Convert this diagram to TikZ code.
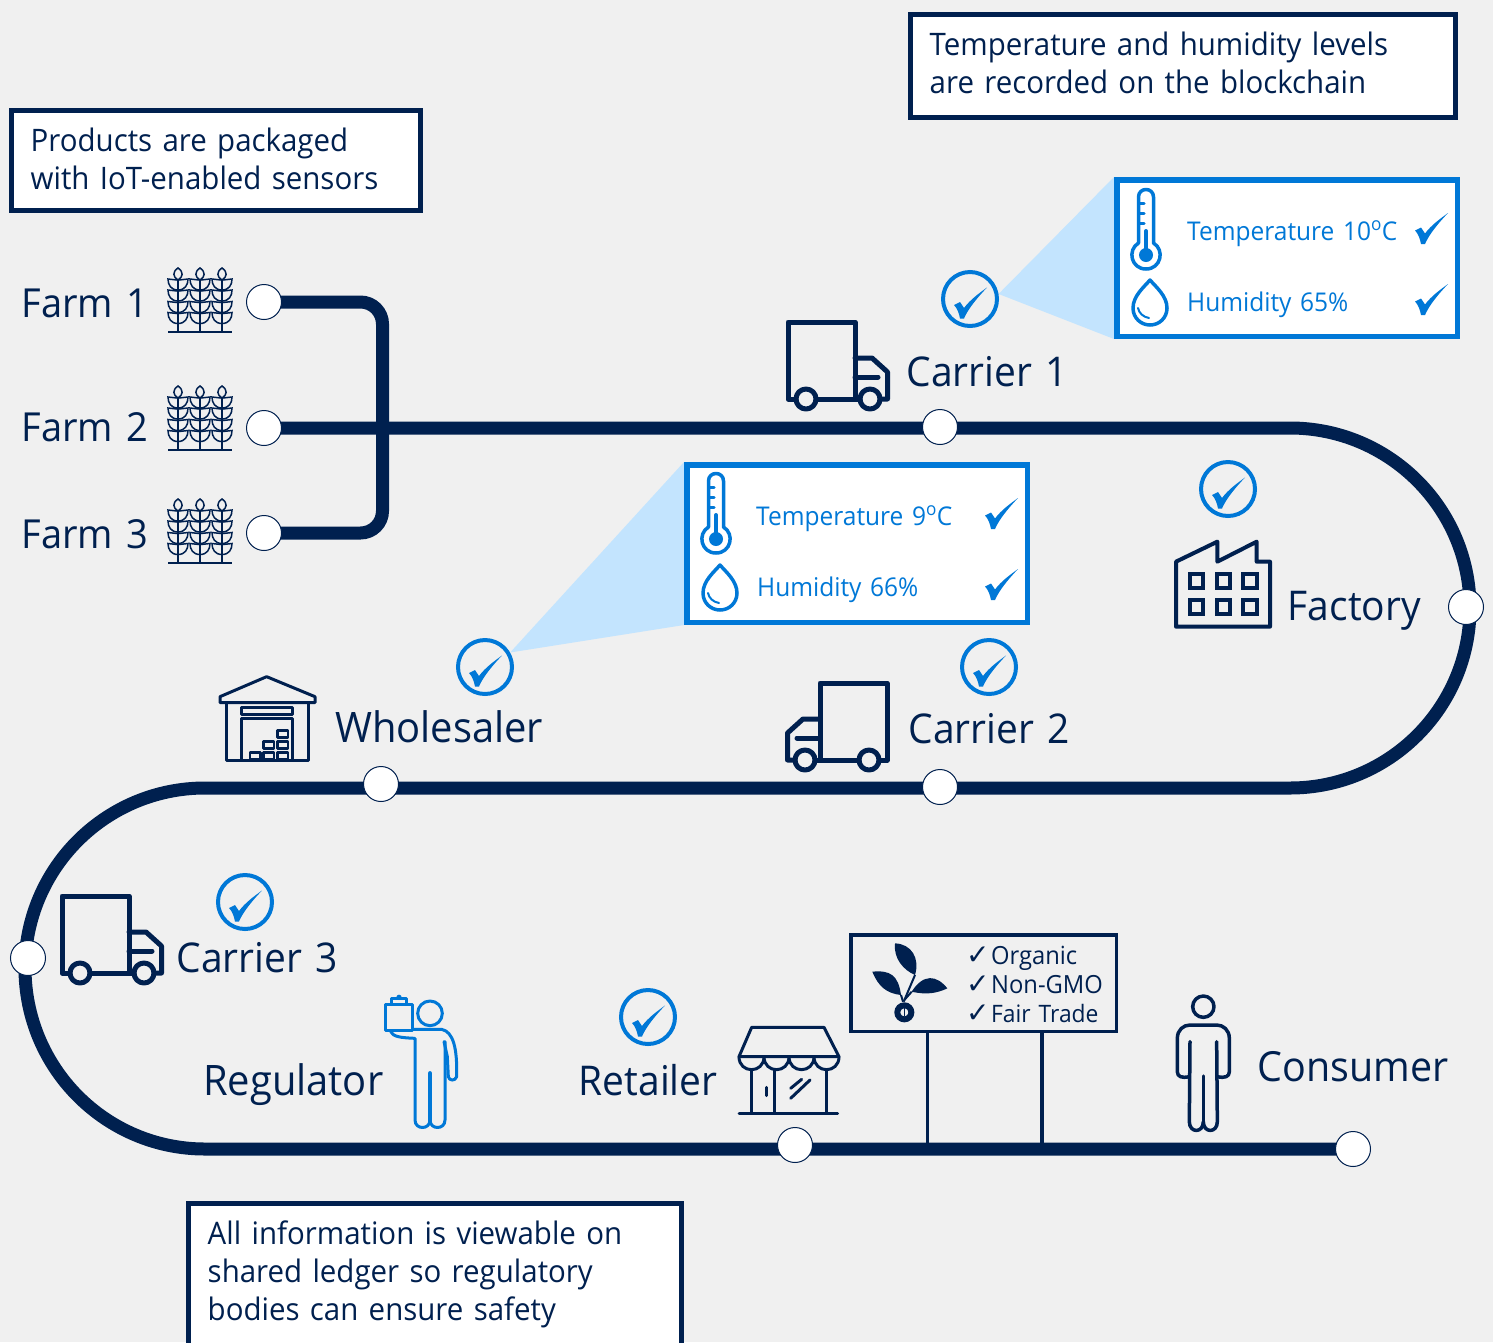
\documentclass[tikz,border=0pt]{standalone}
\usepackage{fontspec}
\setmainfont[FakeStretch=0.95,WordSpace=1.35]{Open Sans}
\newfontfamily\symfont{DejaVu Sans}
\definecolor{navy}{HTML}{00204F}
\definecolor{azure}{HTML}{0078D7}
\definecolor{pale}{HTML}{C3E4FE}
\definecolor{paper}{HTML}{F0F0F0}
\newcommand{\fs}[2]{\fontsize{#1pt}{#2pt}\selectfont}
\newcommand{\cm}{{\fontsize{28pt}{28pt}\symfont ✓}\hspace{1.5pt}}
\pgfdeclarelayer{under}
\pgfsetlayers{under,main}
\tikzset{
  x=1pt,y=-1pt,
  track/.style={draw=navy,line width=13pt},
  station/.style={circle,draw=navy,line width=1pt,fill=white,minimum size=35pt,inner sep=0pt},
  chk/.style={circle,draw=azure,line width=4pt,minimum size=54pt,inner sep=0pt},
  note/.style={draw=navy,line width=5pt,fill=white,anchor=north west,inner sep=0pt},
  notetext/.style={anchor=north west,inner sep=0pt,align=left,text=navy,font=\fs{31}{38}},
  callout/.style={draw=azure,line width=5.5pt,fill=white,anchor=north west,inner sep=0pt},
  calltext/.style={anchor=base west,inner sep=0pt,text=azure,font=\fs{25.8}{30}},
  lbl/.style={anchor=base west,inner sep=0pt,text=navy,font=\fs{41}{46}},
  icon/.style={draw=navy,line width=4pt,line join=round,line cap=round},
  bicon/.style={draw=azure,line width=3pt,line join=round,line cap=round},
  tickmark/.pic={\fill[azure] (-16,6) -- (-10,3) -- (-6,9) .. controls (0,1) and (8,-5) .. (17,-11.5) .. controls (7,-1) and (-2,10) .. (-6,19.5) -- (-10,19.5) .. controls (-11,14) and (-13,9) .. (-16,6) -- cycle;},
  truckicon/.pic={
    \draw[icon,line width=5pt] (8,77) -- (0,77) -- (0,0) -- (67,0) -- (67,77);
    \draw[icon,line width=5pt] (28,77) -- (72,77);
    \draw[icon,line width=5pt] (67,36) -- (84,36) -- (99.5,50) -- (99.5,77) -- (92,77);
    \draw[icon,line width=5pt] (67,55) -- (90,55);
    \draw[icon,line width=5pt] (18,77) circle[radius=10];
    \draw[icon,line width=5pt] (82,77) circle[radius=10];
  },
  wheaticon/.pic={
    \draw[draw=navy,line width=2pt] (-32,64) -- (32,64);
    \foreach \sx in {-22,0,22}{
      \draw[draw=navy,line width=1.8pt] (\sx,12) -- (\sx,64);
      \draw[draw=navy,line width=1.5pt] (\sx,0) .. controls (\sx+6,4) and (\sx+5,9) .. (\sx,12) .. controls (\sx-5,9) and (\sx-6,4) .. (\sx,0) -- cycle;
      \foreach \ly in {11,22,33.5,44.5}{
        \draw[draw=navy,line width=1.5pt] (\sx,\ly+11) .. controls (\sx+7,\ly+11) and (\sx+10,\ly+6) .. (\sx+10,\ly) -- (\sx+1,\ly+1);
        \draw[draw=navy,line width=1.5pt] (\sx,\ly+11) .. controls (\sx-7,\ly+11) and (\sx-10,\ly+6) .. (\sx-10,\ly) -- (\sx-1,\ly+1);
      }
    }
  },
  thermo/.pic={
    \draw[bicon,line width=3.5pt] (-7.5,-12) -- (-7.5,-58) .. controls (-7.5,-68) and (7.5,-68) .. (7.5,-58) -- (7.5,-12) .. controls (19,-5) and (15,14) .. (0,14) .. controls (-15,14) and (-19,-5) .. (-7.5,-12) -- cycle;
    \fill[azure] (0,0) circle[radius=7];
    \draw[bicon,line width=4pt] (0,-24) -- (0,0);
    \foreach \ty in {-52,-42,-32} \draw[bicon] (-7,\ty) -- (-2,\ty);
  },
  dropicon/.pic={
    \draw[bicon,line width=3.5pt] (0,0) .. controls (6,7) and (17,16) .. (17,28) .. controls (17,38) and (9,45) .. (0,45) .. controls (-9,45) and (-17,38) .. (-17,28) .. controls (-17,16) and (-6,7) .. (0,0) -- cycle;
    \draw[bicon,line width=2pt] (-12,28) .. controls (-11,33) and (-7,37) .. (-1,38);
  }
}
\begin{document}
\begin{tikzpicture}
\useasboundingbox (0,0) rectangle (1493,1342);
\clip (0,0) rectangle (1493,1342);
\begin{pgfonlayer}{under}
\fill[paper] (0,0) rectangle (1493,1342);
\end{pgfonlayer}

% stations
\node[station] (f1) at (264,302) {};
\node[station] (f2) at (264,428) {};
\node[station] (f3) at (264,533) {};
\node[station] (c1) at (940,427) {};
\node[station] (fa) at (1466,607) {};
\node[station] (c2) at (940,787) {};
\node[station] (wh) at (381,784) {};
\node[station] (c3) at (28,958) {};
\node[station] (re) at (795,1145) {};
\node[station] (en) at (1353,1149) {};
\coordinate (brk) at (382.5,418);
\coordinate (a1) at (1290,428);
\coordinate (a2) at (1290,788);
\coordinate (b1) at (205,788);
\coordinate (b2) at (205,1149);

% check marks
\node[chk] (k1) at (970,299) {};
\node[chk] (k2) at (1228,489) {};
\node[chk] (k3) at (989,667) {};
\node[chk] (k4) at (485,667) {};
\node[chk] (k5) at (245,902) {};
\node[chk] (k6) at (648,1017) {};
\foreach \k in {k1,k2,k3,k4,k5,k6} \pic at (\k.center) {tickmark};

% call-out panels
\node[callout,minimum width=340.5pt,minimum height=156.5pt] (p1) at (1114,177) {};
\node[callout,minimum width=340.5pt,minimum height=157.5pt] (p2) at (684,462) {};

\begin{pgfonlayer}{under}
\draw[track,rounded corners=22pt] (f1.center) -| (brk) |- (f3.center);
\draw[track] (f2.center) -- (a1) .. controls (1389.4,428) and (1470,508.6) .. (1470,608) .. controls (1470,707.4) and (1389.4,788) .. (a2) -- (b1) .. controls (105.6,788) and (25,868.6) .. (25,968) .. controls (25,1068) and (105.6,1149) .. (b2) -- (en.center);
\fill[pale] (k1.10) -- (p1.north west) -- (p1.south west) -- cycle;
\fill[pale] (k4.30) -- (p2.north west) -- (p2.south west) -- cycle;
\end{pgfonlayer}

% panel contents
\pic at (1146,255) {thermo};
\pic at (1150,280) {dropicon};
\node[calltext] (t1) at (1187,240) {Temperature 10\textsuperscript{o}C};
\node[calltext] (t2) at (1187,311) {Humidity 65\%};
\pic at (1431,224.5) {tickmark};
\pic at (1431,295.5) {tickmark};
\pic at (716,539) {thermo};
\pic at (720,565) {dropicon};
\node[calltext] (t3) at (756,525) {Temperature 9\textsuperscript{o}C};
\node[calltext] (t4) at (757,596) {Humidity 66\%};
\pic at (1001,509.5) {tickmark};
\pic at (1001,580.5) {tickmark};

% notes
\node[note,minimum width=409pt,minimum height=100pt] (n1) at (9,108) {};
\node[notetext] (n1t) at (30.5,127.5) {Products are packaged\\with IoT-enabled sensors};
\node[note,minimum width=545pt,minimum height=103pt] (n2) at (908,12) {};
\node[notetext] (n2t) at (929.5,31.5) {Temperature and humidity levels\\are recorded on the blockchain};
\node[note,minimum width=493pt,minimum height=180pt] (n3) at (186,1201) {};
\node[notetext] (n3t) at (207.5,1220.5) {All information is viewable on\\shared ledger so regulatory\\bodies can ensure safety};

% labels
\node[lbl,font=\fs{40}{46}] (l1) at (21.5,317) {Farm 1};
\node[lbl,font=\fs{40}{46}] (l2) at (21.5,441) {Farm 2};
\node[lbl,font=\fs{40}{46}] (l3) at (21.5,548) {Farm 3};
\node[lbl] (l4) at (906.5,386.5) {Carrier 1};
\node[lbl] (l5) at (1287.5,620) {Factory};
\node[lbl,font=\fs{42}{46}] (l6) at (335,742) {Wholesaler};
\node[lbl] (l7) at (908.5,743.5) {Carrier 2};
\node[lbl] (l8) at (176.5,972) {Carrier 3};
\node[lbl,font=\fs{42}{46}] (l9) at (203,1095) {Regulator};
\node[lbl] (l10) at (578.5,1095) {Retailer};
\node[lbl,font=\fs{41.5}{46}] (l11) at (1257.5,1081) {Consumer};

% wheat
\pic at (200,268) {wheaticon};
\pic at (200,386) {wheaticon};
\pic at (200,499) {wheaticon};

% trucks
\pic at (788,322) {truckicon};
\pic at (62,896) {truckicon};
\pic[xscale=-1] at (887,683) {truckicon};

% factory
\begin{scope}[shift={(1160,450)},scale=1/3]
\draw[icon] (48,335) -- (172,275) -- (172,335) -- (290,275) -- (290,335) -- (330,335) -- (330,530) -- (48,530) -- cycle;
\foreach \wx in {90,170,250} \foreach \wy in {372,450}
  \draw[draw=navy,line width=4pt] (\wx,\wy) rectangle (\wx+40,\wy+42);
\end{scope}

% warehouse
\begin{scope}[shift={(200,630)},scale=1/3]
\draw[icon,line width=3pt] (60,218) -- (60,200) -- (200,140) -- (345,200) -- (345,218) -- cycle;
\draw[icon,line width=3pt] (78,218) -- (78,390) -- (325,390) -- (325,218);
\draw[icon,line width=3pt] (125,232) rectangle (278,254);
\draw[icon,line width=3pt] (125,390) -- (125,265) -- (278,265) -- (278,390);
\foreach \bx/\by in {232/302,190/335,232/335,150/367,190/367,232/367}
  \draw[icon,line width=2.6pt] (\bx,\by) rectangle (\bx+32,\by+21);
\end{scope}

% retailer
\begin{scope}[shift={(370,920)},scale=1/3]
\draw[icon,line width=3pt] (1107,410) -- (1145,322) -- (1362,322) -- (1407,410) -- cycle;
\foreach \sx in {1107,1182,1257,1332}
  \draw[icon,line width=3pt] (\sx,410) .. controls (\sx,462) and (\sx+75,462) .. (\sx+75,410);
\foreach \px in {1143,1213,1368}
  \draw[icon,line width=3pt] (\px,450) -- (\px,580);
\draw[icon,line width=3pt] (1107,580) -- (1403,580);
\draw[icon,line width=3pt] (1190,502) -- (1190,527);
\draw[icon,line width=3pt] (1262,505) -- (1295,478);
\draw[icon,line width=3pt] (1262,535) -- (1320,480);
\end{scope}

% regulator
\begin{scope}[shift={(370,920)},scale=1/3]
\draw[bicon] (180,280) circle[radius=37];
\draw[bicon] (47,252) rectangle (127,332);
\draw[bicon] (65,252) -- (65,235) -- (110,235) -- (110,252);
\fill[azure] (87,232) circle[radius=8];
\draw[bicon] (62,335) .. controls (70,350) and (90,353) .. (135,355) -- (135,600) .. controls (135,630) and (180,630) .. (180,600);
\draw[bicon] (180,600) .. controls (180,630) and (225,630) .. (225,600) -- (225,365);
\draw[bicon] (130,328) -- (215,328) .. controls (250,335) and (262,385) .. (260,470) .. controls (255,485) and (237,482) .. (235,470) -- (232,410) -- (222,365);
\draw[bicon,line width=4.5pt] (180,460) -- (180,600);
\end{scope}

% consumer
\begin{scope}[shift={(840,920)},scale=1/3]
\draw[icon,line width=3.5pt] (1090,260) circle[radius=32];
\draw[icon,line width=3.5pt] (1048,470) .. controls (1025,475) and (1012,470) .. (1012,455) -- (1012,355) .. controls (1012,330) and (1030,315) .. (1050,315) -- (1130,315) .. controls (1150,315) and (1168,330) .. (1168,355) -- (1168,455) .. controls (1168,470) and (1155,475) .. (1132,470);
\draw[icon,line width=3.5pt] (1050,365) -- (1048,605) .. controls (1048,640) and (1090,640) .. (1090,605) .. controls (1090,640) and (1132,640) .. (1132,605) -- (1130,365);
\draw[icon,line width=3.5pt] (1090,468) -- (1090,605);
\end{scope}

% sign
\node[draw=navy,line width=3.5pt,anchor=north west,minimum width=265.5pt,minimum height=96.5pt,inner sep=0pt] (sg) at (849,933) {};
\coordinate (pl) at (927.5,1149);
\coordinate (pr) at (1042,1149);
\draw[draw=navy,line width=3.5pt] (pl |- sg.south) -- (pl);
\draw[draw=navy,line width=3.5pt] (pr |- sg.south) -- (pr);
\begin{scope}[shift={(840,920)},scale=1/3]
\fill[navy] (165,70) .. controls (215,72) and (240,115) .. (225,165) .. controls (190,150) and (160,115) .. (165,70) -- cycle;
\fill[navy] (97,155) .. controls (150,150) and (175,165) .. (183,225) .. controls (140,220) and (115,200) .. (97,155) -- cycle;
\fill[navy] (322,205) .. controls (290,165) and (250,160) .. (215,215) .. controls (260,225) and (290,220) .. (322,205) -- cycle;
\draw[draw=navy,line width=2pt] (191,245) -- (225,165);
\draw[draw=navy,line width=2pt] (189,245) -- (183,225);
\draw[draw=navy,line width=2pt] (193,240) -- (215,215);
\draw[draw=navy,line width=6pt] (193,277) circle[radius=21];
\draw[draw=navy,line width=1.5pt] (193,262) -- (193,288);
\end{scope}
\node[inner sep=0pt,anchor=base west,text=navy,font=\fs{25}{28}] (s1) at (966,964.5) {\cm Organic};
\node[inner sep=0pt,anchor=base west,text=navy,font=\fs{25}{28}] (s2) at (966,993.5) {\cm Non-GMO};
\node[inner sep=0pt,anchor=base west,text=navy,font=\fs{24}{28}] (s3) at (966,1022) {\cm Fair Trade};
\end{tikzpicture}
\end{document}
